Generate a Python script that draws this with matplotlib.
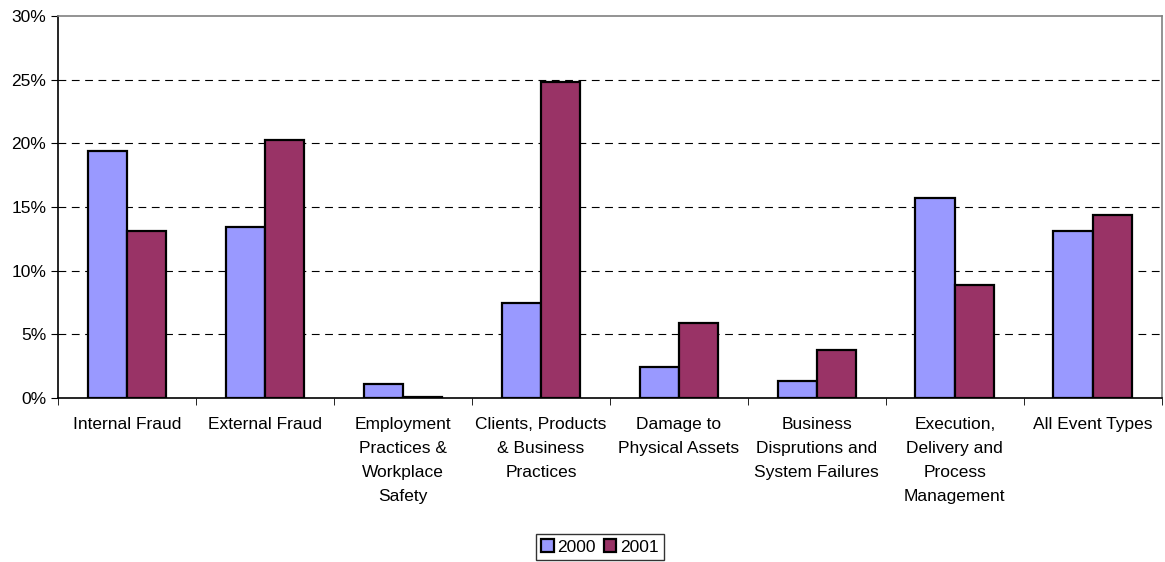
import matplotlib
matplotlib.use("Agg")
import matplotlib.pyplot as plt
import numpy as np
from matplotlib.ticker import FuncFormatter, FixedLocator

plt.rcParams['font.family'] = ['Liberation Sans', 'DejaVu Sans']

categories = ["Internal Fraud", "External Fraud",
              "Employment\nPractices &\nWorkplace\nSafety",
              "Clients, Products\n& Business\nPractices",
              "Damage to\nPhysical Assets",
              "Business\nDisprutions and\nSystem Failures",
              "Execution,\nDelivery and\nProcess\nManagement",
              "All Event Types"]
y2000 = [19.4, 13.4, 1.1, 7.5, 2.4, 1.3, 15.7, 13.1]
y2001 = [13.1, 20.3, 0.1, 24.8, 5.9, 3.8, 8.9, 14.4]
years = ["2000", "2001"]

fig = plt.figure(figsize=(11.65, 5.62), dpi=100)
ax = fig.add_axes([0.0498, 0.2918, 0.9474, 0.6797])

x = np.arange(len(categories))
w = 0.285
ax.bar(x - w / 2, y2000, w, color="#9999FF", edgecolor="black", linewidth=1.6, label=years[0], zorder=3)
ax.bar(x + w / 2, y2001, w, color="#993366", edgecolor="black", linewidth=1.6, label=years[1], zorder=3)

ax.set_xlim(-0.5, len(categories) - 0.5)
ax.set_ylim(0, 30)
ax.set_yticks(np.arange(0, 31, 5))
ax.yaxis.set_major_formatter(FuncFormatter(lambda v, p: f"{v:.0f}%"))
ax.tick_params(axis="y", labelsize=12.5, length=5, direction="out", color="black")

ax.set_xticks(x)
ax.set_xticklabels(categories, fontsize=12.5, linespacing=1.75, va="top")
ax.tick_params(axis="x", which="major", length=0, pad=14)
ax.xaxis.set_minor_locator(FixedLocator(np.arange(-0.5, len(categories), 1.0)))
ax.tick_params(axis="x", which="minor", length=5, direction="out", color="black")

for yv in range(5, 30, 5):
    ax.axhline(yv, color="black", linestyle=(0, (7, 5)), linewidth=0.8, zorder=1)

ax.spines["top"].set_color("#808080")
ax.spines["right"].set_color("#808080")
ax.spines["left"].set_color("black")
ax.spines["bottom"].set_color("black")
for s in ax.spines.values():
    s.set_linewidth(1.2)

leg = fig.legend(loc="center", ncol=2, fontsize=12.5,
                 frameon=True, fancybox=False, edgecolor="black", handlelength=0.7, handleheight=0.7,
                 handletextpad=0.2, columnspacing=0.5, borderpad=0.3)
leg.set_bbox_to_anchor((0.515, 1 - 547 / 562), transform=fig.transFigure)
leg.get_frame().set_linewidth(1.0)

fig.savefig("out.png", dpi=100)
